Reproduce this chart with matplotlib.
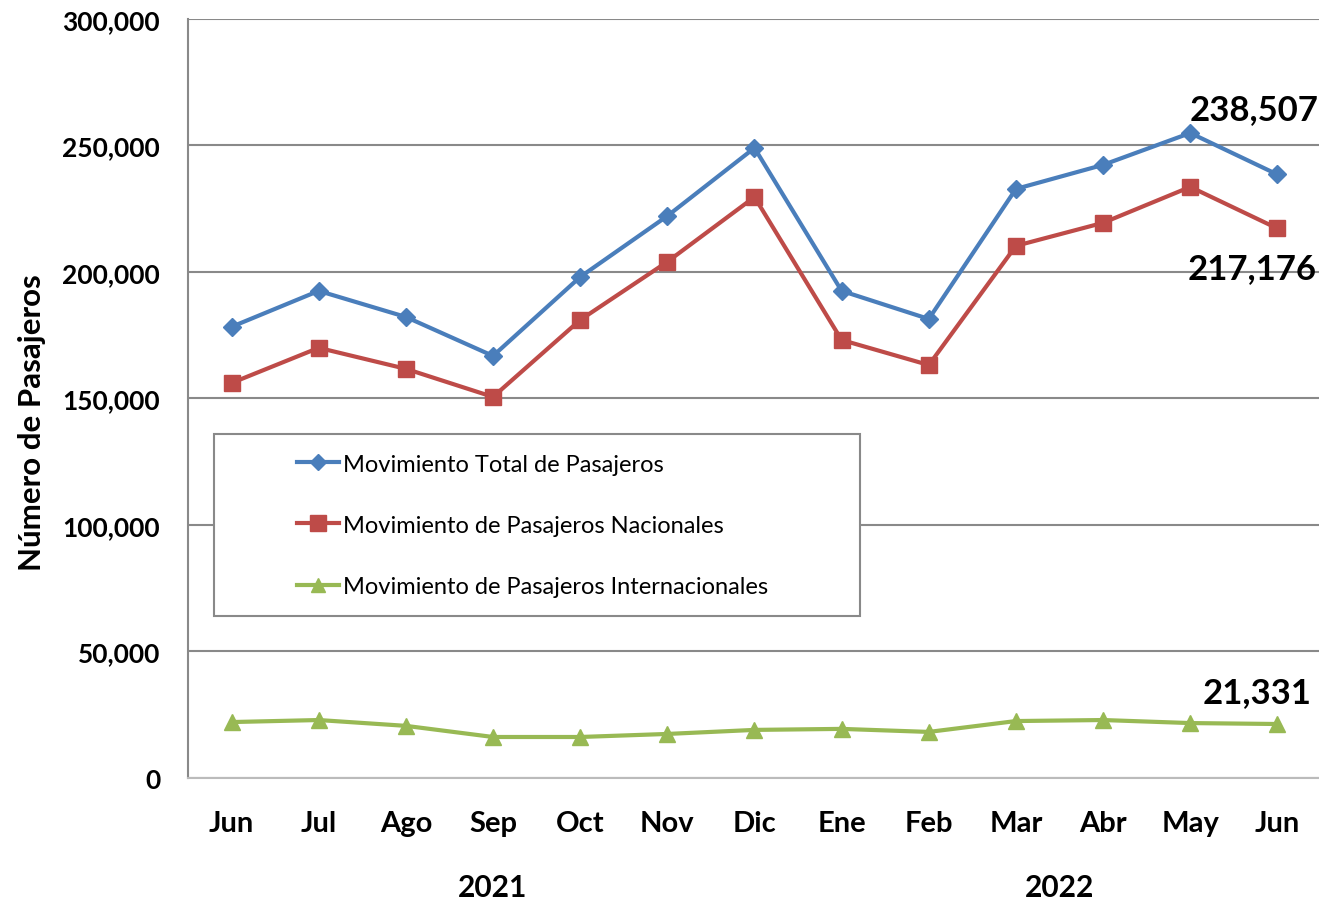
import matplotlib
matplotlib.use("Agg")
import matplotlib.pyplot as plt
from matplotlib.ticker import FuncFormatter
from matplotlib.patches import Rectangle

months = ["Jun", "Jul", "Ago", "Sep", "Oct", "Nov", "Dic", "Ene", "Feb", "Mar", "Abr", "May", "Jun"]
years = ["2021", "2022"]
total = [178300, 192500, 182200, 166800, 198000, 222100, 249000, 192500, 181400, 232800, 242300, 254900, 238507]
nacional = [156100, 170000, 161700, 150600, 181000, 204000, 229600, 173100, 163200, 210300, 219400, 233600, 217176]
internacional = [22100, 22900, 20600, 16200, 16200, 17400, 19000, 19400, 18200, 22500, 22900, 21700, 21331]
series_names = ["Movimiento Total de Pasajeros",
                "Movimiento de Pasajeros Nacionales",
                "Movimiento de Pasajeros Internacionales"]

plt.rcParams['font.family'] = ['Lato', 'DejaVu Sans']

fig = plt.figure(figsize=(13.19, 9.04), dpi=100)
ax = fig.add_axes([0.1425, 0.1383, 0.859, 0.8397])

x = list(range(len(months)))
ax.plot(x, total, color="#4A7EBB", lw=3.0, marker="D", ms=9.5, label=series_names[0])
ax.plot(x, nacional, color="#BE4B48", lw=3.0, marker="s", ms=12, label=series_names[1])
ax.plot(x, internacional, color="#98B954", lw=3.0, marker="^", ms=11, label=series_names[2])

ax.set_xlim(-0.5, 12.5)
ax.set_ylim(0, 300000)
ax.set_yticks(range(0, 300001, 50000))
ax.yaxis.set_major_formatter(FuncFormatter(lambda v, p: f"{int(v):,}"))
ax.set_xticks(x)
ax.set_xticklabels(months)
ax.grid(axis="y", color="#898989", lw=1.5)
ax.set_axisbelow(True)
for s in ["top", "right"]:
    ax.spines[s].set_visible(False)
ax.spines["left"].set_color("#898989")
ax.spines["left"].set_linewidth(1.5)
ax.spines["bottom"].set_color("#bbbbbb")
ax.spines["bottom"].set_linewidth(1.5)
ax.tick_params(axis="y", length=0, pad=20, labelsize=19)
ax.tick_params(axis="x", length=0, pad=23, labelsize=21)
for t in ax.get_yticklabels() + ax.get_xticklabels():
    t.set_fontweight("bold")

ax.set_ylabel("Número de Pasajeros", fontsize=22.5, fontweight="bold")
ax.yaxis.set_label_coords(-0.125, 0.47)

# year labels
ax.text(3, -0.144, years[0], transform=ax.get_xaxis_transform(), ha="center", va="center",
        fontsize=21.5, fontweight="bold")
ax.text(9.5, -0.144, years[1], transform=ax.get_xaxis_transform(), ha="center", va="center",
        fontsize=21.5, fontweight="bold")

# value labels
ax.annotate(f"{total[-1]:,}", xy=(11.73, total[-1]), xytext=(11.73, 264500), ha="center", va="center",
            fontsize=25, fontweight="bold")
ax.annotate(f"{nacional[-1]:,}", xy=(11.71, nacional[-1]), xytext=(11.71, 201500), ha="center", va="center",
            fontsize=25, fontweight="bold")
ax.annotate(f"{internacional[-1]:,}", xy=(11.77, internacional[-1]), xytext=(11.77, 34000), ha="center", va="center",
            fontsize=25, fontweight="bold")

# legend frame
ax.add_patch(Rectangle((0.023, 0.213), 0.570, 0.240, transform=ax.transAxes, fill=True,
                       facecolor="white", edgecolor="#898989", lw=1.5, zorder=5))
leg = ax.legend(loc="center left", bbox_to_anchor=(0.096, 0.333),
                frameon=False, fontsize=17, handlelength=1.8, handletextpad=0.15,
                labelspacing=1.7, borderpad=0, borderaxespad=0)
leg.set_zorder(6)
sizes = [8, 11, 10]
for h, s in zip(leg.legend_handles, sizes):
    h.set_markersize(s)

fig.savefig("out.png", dpi=100)
